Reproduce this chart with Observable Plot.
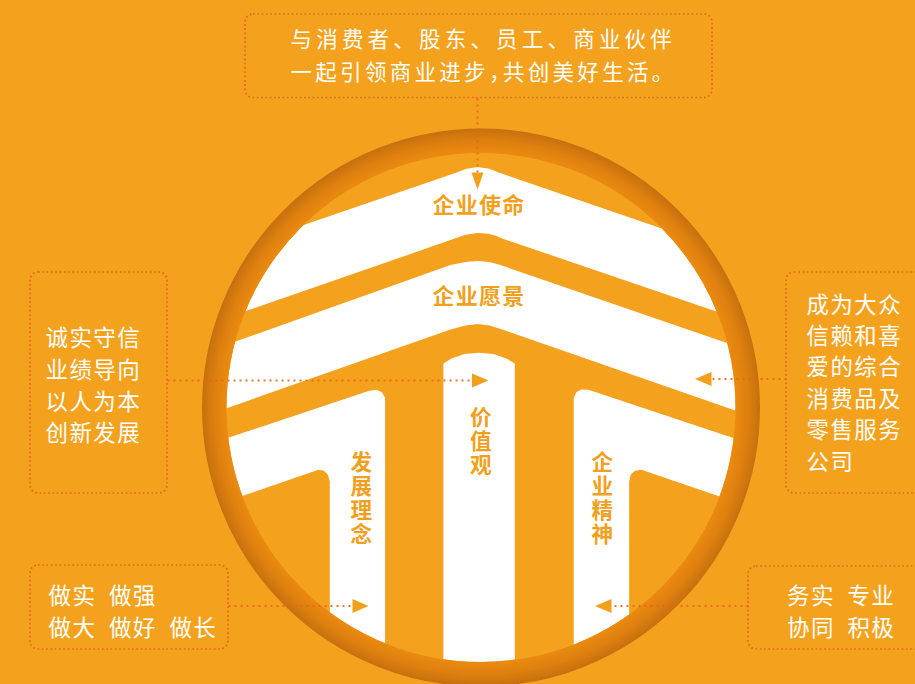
<!DOCTYPE html>
<html><head><meta charset="utf-8">
<script src="https://cdn.jsdelivr.net/npm/d3@7"></script>
<script src="https://cdn.jsdelivr.net/npm/@observablehq/plot@0.6"></script>
<style>
html,body{margin:0;padding:0;background:#f4a21e;}
body{width:915px;height:684px;overflow:hidden;}
</style>
</head><body><div id="chart"></div>
<script>
// ---------- text content ----------
const missionLines = ["与消费者、股东、员工、商业伙伴", "一起引领商业进步，共创美好生活。"];
const valuesLines = ["诚实守信", "业绩导向", "以人为本", "创新发展"];
const visionLines = ["成为大众", "信赖和喜", "爱的综合", "消费品及", "零售服务", "公司"];
const developLines = [["做实", "做强"], ["做大", "做好", "做长"]];
const spiritLines = [["务实", "专业"], ["协同", "积极"]];
const bandLabels = ["企业使命", "企业愿景"];
const pillarLabels = ["发展理念", "价值观", "企业精神"];

// ---------- outline geometry (pixel space) ----------
const bandMission = [[140,280.5],[457,171.8],[465,168.6],[477,166.6],[489,168.2],[497,171.6],[820,282.5],
  [820,346.5],[501.8,238],[496,235.6],[488,233.3],[477,232.6],[465,234.2],[450,239.6],[140,347.2]];
const bandVision = [[140,374.7],[450,264.6],[465,261.4],[477,260.4],[489,261.4],[500,264.6],[820,374.6],
  [820,439.6],[501.8,329],[489,325],[477,323.6],[465,325],[450,329],[140,438]];
const armLeft = [[140,466.5],[368,390.5],[376,389.3],[381.5,391.8],[384.6,397.5],[384.6,720],
  [329.3,720],[329.3,481],[327.3,474],[323,470],[317.9,469.3],[140,530.5]];
const armRight = [[573.2,720],[573.2,397.5],[576,391.5],[581,389],[588,389.2],[820,466.5],
  [820,530.5],[641,469.3],[634.5,470.2],[630.3,474],[628.6,481],[628.6,720]];
const pillarCenter = [[442.9,720],[442.9,363],[451,358],[464,353.6],[478.6,352.2],[493,353.6],[506,358],[514.3,363],[514.3,720]];

const circleGeom = [{x: 480.5, y: 407}];
const ringInner = 254.5, ringOuter = 279;

// arrows: tip, base position along axis, half width
const arrowTips = [
  {tip: [477, 189], base: 172, half: 6, axis: "y"},
  {tip: [488, 380], base: 471.5, half: 7, axis: "x"},
  {tip: [694.5, 378.5], base: 711, half: 7, axis: "x"},
  {tip: [368, 605.5], base: 352, half: 7, axis: "x"},
  {tip: [594.5, 605.5], base: 611, half: 7, axis: "x"}
];
const connectors = [
  {x1: 477, y1: 98, x2: 477, y2: 172},
  {x1: 167, y1: 380, x2: 471.5, y2: 380},
  {x1: 786, y1: 378.5, x2: 711, y2: 378.5},
  {x1: 228, y1: 605.5, x2: 352, y2: 605.5},
  {x1: 748, y1: 605.5, x2: 611, y2: 605.5}
];
const boxes = [
  {x1: 245, x2: 712, y1: 14, y2: 97.5},
  {x1: 30, x2: 167, y1: 272, y2: 493},
  {x1: 786, x2: 940, y1: 272, y2: 493},
  {x1: 30, x2: 228, y1: 565, y2: 649},
  {x1: 748, x2: 940, y1: 566, y2: 649}
];

// ---------- build rows ----------
const shapeRows = [
  ["mission", bandMission], ["vision", bandVision], ["armL", armLeft], ["armR", armRight], ["pillar", pillarCenter]
].flatMap(([name, pts]) => pts.map(([x, y]) => ({shape: name, x, y})));

const arrowRows = arrowTips.flatMap((a, i) => {
  const [tx, ty] = a.tip;
  const pts = a.axis === "y"
    ? [[tx, ty], [tx - a.half, a.base], [tx + a.half, a.base]]
    : [[tx, ty], [a.base, ty - a.half], [a.base, ty + a.half]];
  return pts.map(([x, y]) => ({shape: "a" + i, x, y}));
});

const BG = "#f4a21e";
const ORANGE_TEXT = "#f29f1d";
const DOT = "#e8661c";
const gap = "\u2002";

const whiteTexts = [
  {text: missionLines.join("\n"), x: 290, y: 52, size: 21.5, lh: 33 / 21.5},
  {text: valuesLines.join("\n"), x: 45, y: 383, size: 22.5, lh: 31.7 / 22.5},
  {text: visionLines.join("\n"), x: 806, y: 380.5, size: 22.4, lh: 31.4 / 22.4},
  {text: developLines.map(l => l.join(gap)).join("\n"), x: 48, y: 609.5, size: 22.5, lh: 31.7 / 22.5},
  {text: spiritLines.map(l => l.join(gap)).join("\n"), x: 786.5, y: 609.5, size: 22.5, lh: 31.7 / 22.5}
];
const bandTexts = [
  {text: bandLabels[0], x: 478.5, y: 205},
  {text: bandLabels[1], x: 478.5, y: 296}
];
const pillarTexts = [
  {text: pillarLabels[0].split("").join("\n"), x: 360.8, y: 498},
  {text: pillarLabels[1].split("").join("\n"), x: 480.4, y: 441},
  {text: pillarLabels[2].split("").join("\n"), x: 601.8, y: 498}
];

const font = "'Noto Sans CJK SC', 'Noto Sans', sans-serif";

const textMarks = whiteTexts.map(t => Plot.text([t], {
  x: "x", y: "y", text: "text", textAnchor: "start", lineAnchor: "middle",
  fontSize: t.size, lineHeight: t.lh, fill: "#ffffff", fontFamily: font
}));

const chart = Plot.plot({
  width: 915, height: 684,
  marginTop: 0, marginRight: 0, marginBottom: 0, marginLeft: 0,
  x: {domain: [0, 915], range: [0, 915], axis: null},
  y: {domain: [0, 684], range: [0, 684], axis: null},
  style: {background: BG, fontFamily: font, overflow: "hidden"},
  marks: [
    // white bands & pillars
    Plot.line(shapeRows, {x: "x", y: "y", z: "shape", fill: "#ffffff", stroke: "none", curve: "linear"}),
    // mask outside the ring
    Plot.dot(circleGeom, {x: "x", y: "y", r: ringInner + 300, fill: "none", stroke: BG, strokeWidth: 600}),
    // ring
    Plot.dot(circleGeom, {x: "x", y: "y", r: (ringInner + ringOuter) / 2, fill: "none",
      stroke: "url(#ringGrad)", strokeWidth: ringOuter - ringInner}),
    // boxes
    Plot.rect(boxes, {x1: "x1", x2: "x2", y1: "y1", y2: "y2", rx: 8, fill: "none",
      stroke: DOT, strokeWidth: 1.7, strokeDasharray: "1.7,2.6"}),
    // connectors
    Plot.link(connectors, {x1: "x1", y1: "y1", x2: "x2", y2: "y2", stroke: DOT,
      strokeWidth: 2, strokeDasharray: "2,4", strokeOpacity: 0.9}),
    // arrows
    Plot.line(arrowRows, {x: "x", y: "y", z: "shape", fill: ORANGE_TEXT, stroke: "none"}),
    // band labels
    Plot.text(bandTexts, {x: "x", y: "y", text: "text", fontSize: 22, fontWeight: "bold",
      fill: ORANGE_TEXT, fontFamily: font}),
    Plot.text(pillarTexts, {x: "x", y: "y", text: "text", fontSize: 21.6, fontWeight: "bold",
      fill: ORANGE_TEXT, fontFamily: font, lineHeight: 24 / 21.6}),
    ...textMarks
  ]
});

// gradient for ring
const c = circleGeom[0];
const defs = d3.select(chart).insert("defs", ":first-child");
const grad = defs.append("radialGradient").attr("id", "ringGrad")
  .attr("gradientUnits", "userSpaceOnUse").attr("cx", c.x).attr("cy", c.y).attr("r", ringOuter);
grad.append("stop").attr("offset", ringInner / ringOuter).attr("stop-color", "#ea8a10");
grad.append("stop").attr("offset", (ringInner + 12) / ringOuter).attr("stop-color", "#df800f");
grad.append("stop").attr("offset", 1).attr("stop-color", "#c6700e");

// letter spacing per text style
const spacing = {"21.5": 4.2, "22.5": 1.4, "22.4": 1.5, "22": 1.3};
d3.select(chart).selectAll("g[font-size]").each(function() {
  const fs = this.getAttribute("font-size");
  if (spacing[fs] != null) this.setAttribute("letter-spacing", spacing[fs]);
});
// half-width comma and slightly tighter tracking in the second mission line, as in the reference
d3.select(chart).selectAll("tspan").filter(function() { return this.textContent.includes("，"); })
  .style("font-feature-settings", "'halt'")
  .attr("letter-spacing", 3.3);

document.getElementById("chart").appendChild(chart);
</script>
</body></html>
